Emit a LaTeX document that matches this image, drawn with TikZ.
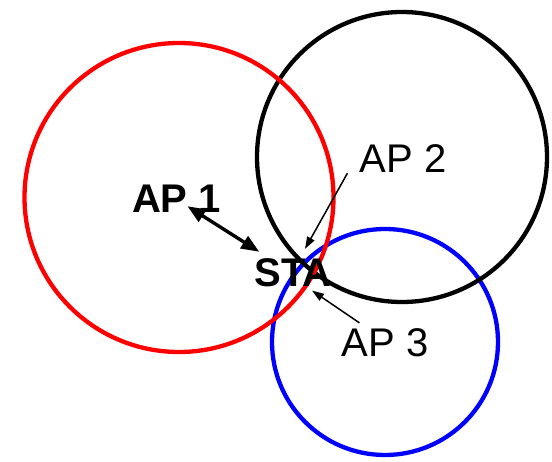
\documentclass[tikz,border=0pt]{standalone}
\usepackage{fontspec}
\setmainfont{Liberation Sans}
\usetikzlibrary{arrows.meta}

\begin{document}
\begin{tikzpicture}[x=1pt,y=-1pt,
  cell/.style={line width=4.3pt},
  lbl/.style={inner sep=0pt,anchor=base,font=\fontsize{40}{48}\selectfont},
  link/.style={line width=3.4pt,{Triangle[length=18pt,width=14pt]}-{Triangle[length=18pt,width=14pt]}},
  pointer/.style={line width=1.5pt,-{Triangle[length=12pt,width=8pt]}}]
\useasboundingbox (0,0) rectangle (552,462);
% coverage areas
\draw[cell,blue] (385,342) circle (113);
\draw[cell,black] (402,157) circle (145);
\draw[cell,red] (179,197.5) circle (154.5);
% labels
\node[lbl,font=\fontsize{40}{48}\selectfont\bfseries] (ap1) at (176.5,213) {AP 1};
\node[lbl,font=\fontsize{40}{48}\selectfont\bfseries] (sta) at (293,287) {STA};
\node[lbl] (ap2) at (403,173) {AP 2};
\node[lbl] (ap3) at (385,357) {AP 3};
% arrows
\draw[link,shorten <=13pt,shorten >=40pt] (ap1.center) -- (sta.center);
\draw[pointer] ([xshift=-12pt]ap2.south west) -- ([xshift=12pt,yshift=10pt]sta.north);
\draw[pointer] ([xshift=18pt,yshift=6pt]ap3.north west) -- ([xshift=19pt,yshift=-3pt]sta.south);
\end{tikzpicture}
\end{document}
